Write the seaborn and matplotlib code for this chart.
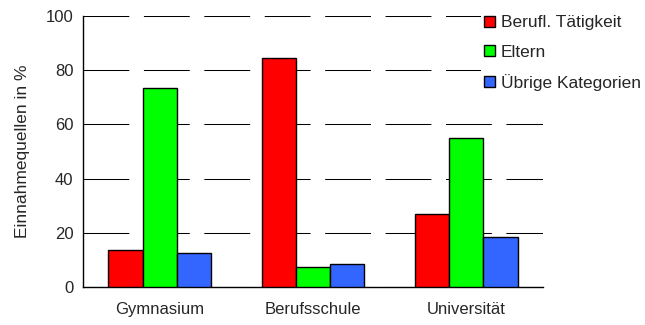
import matplotlib
matplotlib.use("Agg")
import matplotlib.pyplot as plt
import seaborn as sns
import pandas as pd
from matplotlib.patches import Patch

categories = ["Gymnasium", "Berufsschule", "Universität"]
series_names = ["Berufl. Tätigkeit", "Eltern", "Übrige Kategorien"]
berufl = [13.5, 84.5, 27.0]
eltern = [73.5, 7.5, 55.0]
uebrige = [12.5, 8.5, 18.5]
colors = ["#FF0000", "#00FF00", "#3366FF"]

rows = []
for name, vals in zip(series_names, [berufl, eltern, uebrige]):
    for c, v in zip(categories, vals):
        rows.append({"Kategorie": c, "Serie": name, "Wert": v})
df = pd.DataFrame(rows)

sns.set_style("white")
plt.rcParams["font.family"] = ["Liberation Sans", "DejaVu Sans"]

fig = plt.figure(figsize=(6.45, 3.25), dpi=100)
ax = fig.add_axes([83/645, 38/325, 460/645, 271/325])

sns.barplot(data=df, x="Kategorie", y="Wert", hue="Serie", order=categories,
            hue_order=series_names, palette=colors, width=0.67, saturation=1,
            edgecolor="black", linewidth=1.0, ax=ax, legend=False, zorder=3)

ax.set_ylim(0, 100)
ax.set_xlim(-0.5, 2.5)
ax.set_yticks([0, 20, 40, 60, 80, 100])
ax.yaxis.grid(True, color="black", linewidth=0.75, linestyle=(0, (44, 14)), zorder=0)
ax.set_axisbelow(True)
for s in ["top", "right"]:
    ax.spines[s].set_visible(False)
for s in ["left", "bottom"]:
    ax.spines[s].set_color("black")
    ax.spines[s].set_linewidth(1.0)

ax.set_xticks([-0.5, 0.5, 1.5, 2.5], minor=True)
ax.tick_params(axis="x", which="minor", length=4, direction="out", color="black", width=1)
ax.tick_params(axis="x", which="major", length=0, labelsize=12, pad=11)
ax.tick_params(axis="y", which="major", length=4, width=1, color="black", direction="out",
               labelsize=12, pad=3)
ax.set_xlabel("")
ax.set_ylabel("Einnahmequellen in %", fontsize=12.5, labelpad=11)

handles = [Patch(facecolor=c, edgecolor="black", linewidth=1.0) for c in colors]
leg = ax.legend(handles, series_names, loc="upper left", bbox_to_anchor=(481/645, 313/325),
                bbox_transform=fig.transFigure, frameon=True, fontsize=12.5,
                handlelength=0.6, handleheight=0.6, handletextpad=0.35,
                labelspacing=0.82, borderpad=0.2, borderaxespad=0)
leg.get_frame().set_facecolor("white")
leg.get_frame().set_edgecolor("none")
leg.get_frame().set_alpha(1)
leg.set_zorder(10)

fig.savefig("out.png", dpi=100)
